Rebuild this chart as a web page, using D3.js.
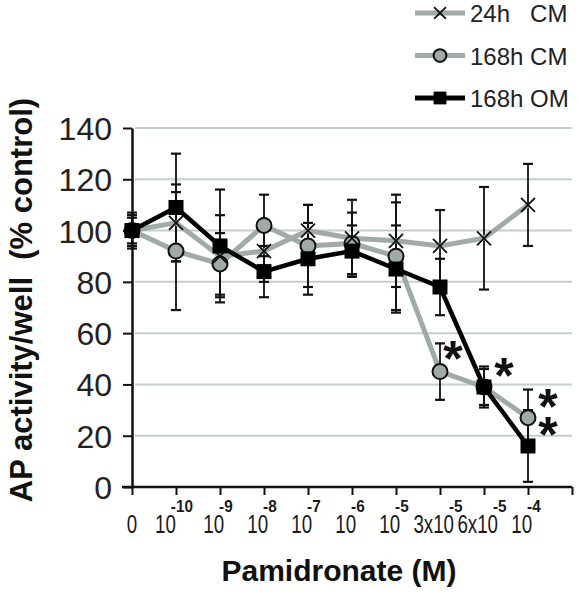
<!DOCTYPE html>
<html><head><meta charset="utf-8">
<script src="https://cdn.jsdelivr.net/npm/d3@7"></script>
<style>body{margin:0;background:#fff}svg{display:block}text{font-family:"Liberation Sans",Arial,sans-serif}</style>
</head><body><svg id="c" width="577" height="600"></svg>
<script>
const tickBase = ["0","10","10","10","10","10","10","3x10","6x10","10"];
const tickExp  = ["","-10","-9","-8","-7","-6","-5","-5","-5","-4"];
const yTicks = [0,20,40,60,80,100,120,140];
const seriesNames = ["24h   CM","168h CM","168h OM"];
const cm24     = [100,103, 90, 92,100, 97, 96, 94, 97,110];
const cm24Err  = [  6, 15, 16, 12, 10, 15, 18, 14, 20, 16];
const cm168    = [100, 92, 87,102, 94, 95, 90, 45, 39, 27];
const cm168Err = [  7, 23, 12, 12, 16, 12, 21, 11,  8, 11];
const om168    = [100,109, 94, 84, 89, 92, 85, 78, 39, 16];
const om168Err = [  5, 21, 22, 10, 14, 10, 17, 11,  7, 14];
// significance marks: [index, value at the mark's centre]
const stars = [[7,54],[8,47],[9,35],[9,24]];

const svg = d3.select("#c");
const x = d3.scaleLinear().domain([0,10]).range([132,572]);
const y = d3.scaleLinear().domain([0,140]).range([487,128]);
const GRAY = "#a0aaa8";

// gridlines
svg.append("g").selectAll("line").data(yTicks.filter(d=>d>0)).join("line")
  .attr("x1",x(0)+3).attr("x2",x(10)).attr("y1",d=>y(d)).attr("y2",d=>y(d))
  .attr("stroke","#c6cecd").attr("stroke-width",2);

// y axis
const ya = svg.append("g").attr("transform",`translate(${x(0)},0)`)
  .call(d3.axisLeft(y).tickValues(yTicks).tickSize(9).tickSizeOuter(0).tickPadding(11));
ya.select(".domain").attr("stroke","#111").attr("stroke-width",2.5);
ya.selectAll(".tick line").attr("stroke","#111").attr("stroke-width",2);
ya.selectAll(".tick text").attr("font-size",32).attr("fill","#222")
  .attr("font-family",'"Liberation Sans",Arial,sans-serif').attr("dy","0.36em");

// x axis
const xa = svg.append("g").attr("transform",`translate(0,${y(0)})`)
  .call(d3.axisBottom(x).tickValues(d3.range(11)).tickSize(8).tickSizeOuter(0).tickFormat(""));
xa.select(".domain").remove();
xa.append("line").attr("x1",x(0)-10).attr("x2",x(10)).attr("stroke","#111").attr("stroke-width",2.5);
xa.selectAll(".tick line").attr("stroke","#111").attr("stroke-width",2);

// x tick labels: condensed base with bold superscript exponent
const xl = svg.append("g");
const BS = 0.75, ES = 0.9;
tickBase.forEach((b,i)=>{
  const g = xl.append("g");
  const bt = g.append("text").attr("transform",`scale(${BS},1)`).attr("y",533)
    .attr("font-size",25).attr("fill","#1a1a1a").text(b);
  const wb = bt.node().getComputedTextLength()*BS;
  let total = wb;
  if (tickExp[i]) {
    const et = g.append("text").attr("transform",`translate(${wb-5},0) scale(${ES},1)`).attr("y",512)
      .attr("font-size",17).attr("font-weight","bold").attr("fill","#1a1a1a").text(tickExp[i]);
    total = wb - 5 + et.node().getComputedTextLength()*ES;
  }
  g.attr("transform",`translate(${x(i) - total/2 + (i===0?0:-2)},0)`);
});

// axis titles
svg.append("text").attr("x",339).attr("y",581).attr("text-anchor","middle")
  .attr("font-size",30).attr("font-weight","bold").attr("fill","#111").text("Pamidronate (M)");
svg.append("text").attr("transform","translate(32,300) rotate(-90)").attr("text-anchor","middle")
  .attr("font-size",31).attr("font-weight","bold").attr("fill","#111")
  .style("white-space","pre").text("AP activity/well  (% control)");

const series = [
  {vals:cm24, err:cm24Err, color:GRAY, w:5, marker:"x"},
  {vals:cm168, err:cm168Err, color:GRAY, w:5, marker:"o"},
  {vals:om168, err:om168Err, color:"#000", w:4.5, marker:"s"}
];

// error bars
series.forEach(s=>{
  const g = svg.append("g").attr("stroke","#111").attr("stroke-width",1.8);
  s.vals.forEach((v,i)=>{
    const lo = Math.max(0,v-s.err[i]), hi = v+s.err[i];
    g.append("line").attr("x1",x(i)).attr("x2",x(i)).attr("y1",y(lo)).attr("y2",y(hi));
    [lo,hi].forEach(e=>g.append("line").attr("x1",x(i)-5).attr("x2",x(i)+5).attr("y1",y(e)).attr("y2",y(e)).attr("stroke-width",2.2));
  });
});

// lines
const line = d3.line().x((d,i)=>x(i)).y(d=>y(d));
series.forEach(s=>{
  svg.append("path").datum(s.vals).attr("d",line).attr("fill","none")
    .attr("stroke",s.color).attr("stroke-width",s.w).attr("stroke-linejoin","miter");
});

function drawMarker(g, type, cx, cy, scale){
  if (type==="x"){
    const r=7*scale;
    g.append("path").attr("d",`M${cx-r},${cy-r}L${cx+r},${cy+r}M${cx-r},${cy+r}L${cx+r},${cy-r}`)
      .attr("stroke","#111").attr("stroke-width",1.8).attr("fill","none");
  } else if (type==="o"){
    g.append("circle").attr("cx",cx).attr("cy",cy).attr("r",7.5*scale)
      .attr("fill",GRAY).attr("stroke","#111").attr("stroke-width",2);
  } else {
    const h=7.5*scale;
    g.append("rect").attr("x",cx-h).attr("y",cy-h).attr("width",2*h).attr("height",2*h).attr("fill","#000");
  }
}
// markers
["o","x","s"].forEach(t=>{
  const s = series.find(q=>q.marker===t);
  const g = svg.append("g");
  s.vals.forEach((v,i)=>drawMarker(g,t,x(i),y(v),1));
});

// stars
svg.append("g").selectAll("text").data(stars).join("text")
  .attr("x",d=>x(d[0])+(d[0]===7?13:20)).attr("y",d=>y(d[1])+27).attr("text-anchor","middle")
  .attr("font-size",50).attr("font-weight","bold").attr("fill","#111").text("*");

// legend
const lg = svg.append("g");
series.forEach((s,i)=>{
  const ly = 13 + i*42.5;
  lg.append("line").attr("x1",415).attr("x2",465).attr("y1",ly).attr("y2",ly)
    .attr("stroke",s.color).attr("stroke-width",5);
  drawMarker(lg,s.marker,440,ly,0.85);
  lg.append("text").attr("x",470).attr("y",ly+9).attr("font-size",24).attr("fill","#222")
    .style("white-space","pre").text(seriesNames[i]);
});
</script></body></html>
